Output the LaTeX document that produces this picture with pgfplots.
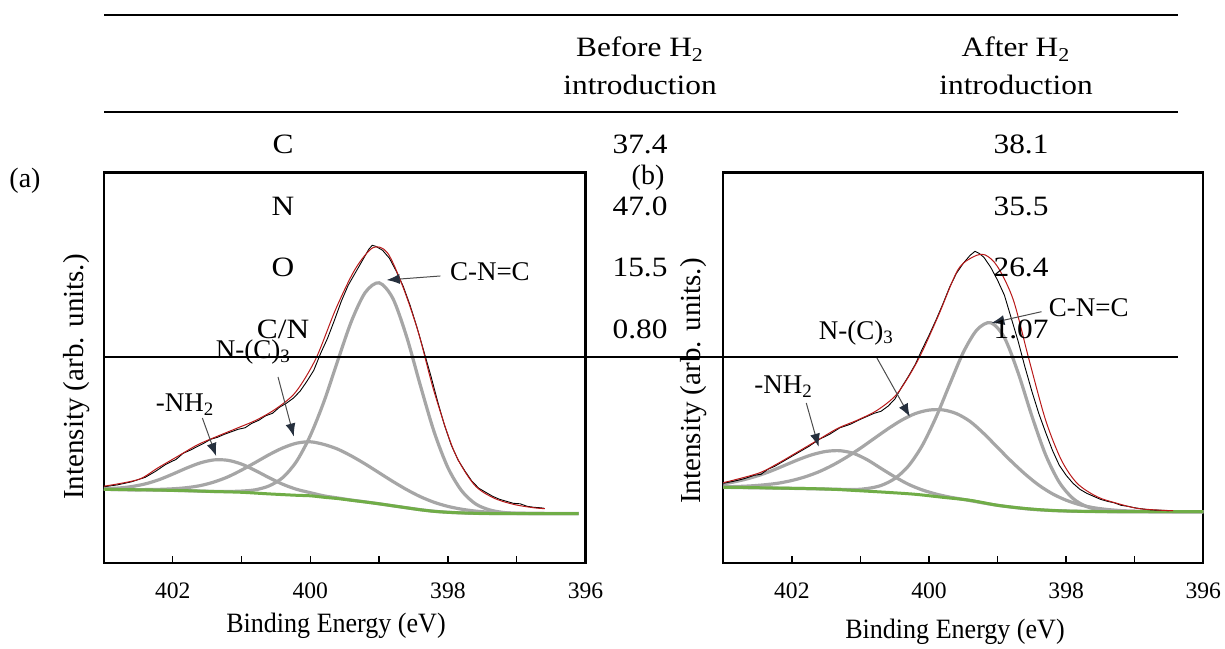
\documentclass[border=0pt]{standalone}
\usepackage{fontspec}
\setmainfont{Liberation Serif}
\newfontfamily\tabfont[FakeStretch=1.12]{Liberation Serif}
\newfontfamily\lblfont[FakeStretch=0.93]{Liberation Serif}
\usepackage{pgfplots}
\pgfplotsset{compat=1.18}
\usetikzlibrary{arrows.meta}
\definecolor{compgray}{RGB}{166,166,166}
\definecolor{bggreen}{RGB}{112,173,71}
\definecolor{envred}{RGB}{185,25,25}
\definecolor{arrowdark}{RGB}{38,48,62}
\pgfplotsset{
  xpsaxis/.style={scale only axis, height=195.4pt, anchor=south west,
    xmin=396, xmax=403, ymin=0, ymax=390.8, x dir=reverse,
    xtick={396,397,398,399,400,401,402},
    xticklabels={\textrm{396},,\textrm{398},,\textrm{400},,\textrm{402}},
    /pgf/number format/assume math mode=true,
    ytick=\empty, tick align=inside, xtick pos=left, major tick length=3.6pt,
    axis line style={line width=1.1pt}, every tick/.style={black, line width=0.7pt},
    xticklabel style={font=\rmfamily\fontsize{11.8}{13}\selectfont, inner sep=0pt, yshift=-9.5pt},
    clip=false},
  comp/.style={compgray, line width=1.6pt, smooth, no markers},
  bgs/.style={bggreen, line width=1.5pt, smooth, no markers},
  env/.style={envred, line width=0.5pt, smooth, no markers},
  raw/.style={black, line width=0.45pt, no markers},
}
\tikzset{
  anns/.style={font=\fontsize{13.5}{15}\selectfont, inner sep=0pt},
  arr/.style={draw=black!70, line width=0.5pt, -{Latex[length=6.5pt,width=5pt,color=arrowdark]}},
  tabt/.style={font=\tabfont\fontsize{14}{16}\selectfont, anchor=base, inner sep=0pt},
}
\begin{document}
\begin{tikzpicture}[x=1pt,y=1pt]
\path[use as bounding box] (0,0) rectangle (612.5,324);
% ---------------- (a) ----------------
\begin{axis}[xpsaxis, at={(52pt,42.35pt)}, width=240.75pt]
\addplot[comp] table {
403.0 74
402.6 73.6
402.2 73.2
401.8 72.6
401.4 71.8
401.2 71.8
401.0 72.2
400.8 73.5
400.6 77.4
400.4 85.8
400.2 102
400.0 127.8
399.8 162.1
399.6 203
399.4 242.5
399.2 271
399.0 280.5
398.8 264.8
398.6 226.5
398.4 177.7
398.2 131.3
398.0 95.6
397.8 72.5
397.6 59.5
397.4 53.5
397.2 50.9
397.0 49.9
396.6 49.7
396.1 49.7
};
\addplot[comp] table {
403.0 74
402.6 73.6
402.4 73.7
402.2 73.9
402.0 74.5
401.8 75.6
401.6 77.7
401.4 81.3
401.2 86.4
401.0 93.2
400.8 100.8
400.6 108.6
400.4 115.4
400.2 120.1
400.0 121.5
399.8 118.8
399.6 114.1
399.4 107.2
399.2 99.2
399.0 90.5
398.8 81.8
398.6 73.7
398.4 66.6
398.2 61
398.0 56.9
397.8 54.1
397.6 52.2
397.4 51.1
397.2 50.4
397.0 50.1
396.6 49.7
396.1 49.7
};
\addplot[comp] table {
403.0 74.6
402.8 75.2
402.6 76.7
402.4 79.4
402.2 83.6
402.0 89.2
401.8 95.2
401.6 100.4
401.4 103.4
401.2 103
401.0 99.2
400.8 92.8
400.6 85.6
400.4 79
400.2 74
400.0 70.6
399.8 67.4
399.6 65.3
399.4 63.2
399.2 61.4
399.0 59.5
398.6 55.5
398.2 52
397.8 50.4
397.4 49.8
396.1 49.7
};
\addplot[bgs] table {
403.0 74
402.6 73.6
402.2 73.2
401.8 72.6
401.4 71.8
401.0 71
400.6 69.4
400.2 68
400.0 67.5
399.8 66
399.6 64.7
399.4 63
399.2 61.3
399.0 59.5
398.8 57.5
398.6 55.5
398.4 53.5
398.2 52
398.0 51
397.8 50.4
397.6 50
397.4 49.8
397.0 49.7
396.1 49.7
};
\addplot[raw] table {
403.0 76.5
402.8 78.5
402.6 81.5
402.4 86
402.25 92
402.1 99
401.95 104
401.85 110
401.75 113
401.65 116.5
401.55 120
401.45 124
401.35 126
401.25 129
401.15 131.5
401.05 134
400.95 135.5
400.85 140
400.75 143
400.65 147.5
400.55 150
400.45 156
400.35 160
400.25 165
400.15 172
400.05 182
399.95 193
399.85 210
399.75 225
399.65 243
399.55 262
399.45 278
399.35 290
399.25 302
399.15 314
399.1 318
399.05 317
398.95 313
398.85 305
398.75 292
398.65 277
398.55 258
398.45 236
398.35 212
398.25 188
398.15 162
398.05 138
397.95 118
397.85 103
397.75 92
397.65 82
397.55 75
397.45 71
397.35 67
397.25 64
397.15 62
397.05 60
396.95 59.5
396.85 57
396.75 56
396.65 55.5
396.6 55
};
\addplot[env] table {
403.0 77.1
402.5 83.8
402.22 95.3
401.93 106.9
401.64 118.5
401.36 126.8
401.07 135
400.78 143.4
400.49 155
400.21 171.5
399.92 204.6
399.63 254.3
399.35 294
399.09 315.6
398.88 310.6
398.66 277.5
398.43 231
398.2 171.5
397.91 112
397.62 78.8
397.34 65.5
397.05 59
396.76 55.6
396.59 54.6
};
\node[anns] at (axis cs:397.39,291.3) {C-N=C};
\draw[arr] (axis cs:398.11,287.3) -- (axis cs:398.89,283.3);
\node[anns] at (axis cs:400.83,211.3) {N-(C)\textsubscript{3}};
\draw[arr] (axis cs:400.47,186.3) -- (axis cs:400.24,126.8);
\node[anns] at (axis cs:401.82,158.3) {-NH\textsubscript{2}};
\draw[arr] (axis cs:401.57,145.3) -- (axis cs:401.37,107.3);
\end{axis}
% ---------------- (b) ----------------
\begin{axis}[xpsaxis, at={(361.65pt,42.35pt)}, width=240pt]
\addplot[comp] table {
403.0 76
402.2 75.2
401.6 74.4
401.1 73.8
400.9 74.8
400.7 77.8
400.5 84.7
400.3 97.3
400.1 117.6
399.9 145.7
399.7 178.7
399.5 210.9
399.3 233.5
399.1 240.6
398.9 225.6
398.7 190.4
398.5 147.3
398.3 108.6
398.1 81
397.9 64.8
397.7 56.7
397.5 53.3
397.3 52.1
397.1 51.7
396.0 51.6
};
\addplot[comp] table {
403.0 76.5
402.8 76.8
402.6 77.4
402.4 78.5
402.2 80.1
402.0 82.8
401.8 86.6
401.6 91.7
401.4 98.3
401.2 106.2
401.0 115.1
400.8 124.8
400.6 134.4
400.4 143.1
400.2 149.7
400.0 153.2
399.8 153.4
399.6 149.7
399.4 141.8
399.2 129.7
399.0 115.8
398.8 102
398.6 89.3
398.4 78.2
398.2 69.5
398.0 63.1
397.8 58.6
397.6 55.6
397.4 53.8
397.2 52.7
397.0 52.2
396.6 51.7
396.0 51.6
};
\addplot[comp] table {
403.0 79.6
402.9 80.6
402.7 83.6
402.5 87.5
402.3 92.4
402.1 98.1
401.9 103.8
401.7 108.7
401.5 111.9
401.3 112.6
401.1 109.9
400.9 103.5
400.7 94.9
400.5 86.5
400.3 79
400.1 73.4
399.9 69.3
399.7 66.2
399.5 63.9
399.0 58
398.5 54
398.0 52.3
397.5 51.7
397.0 51.6
396.0 51.6
};
\addplot[bgs] table {
403.0 76
402.6 75.7
402.2 75.2
401.8 74.8
401.4 74
401.0 72.5
400.6 70.9
400.2 69
399.8 66
399.4 63
399.0 58
398.6 54.8
398.2 52.8
397.8 52
397.4 51.7
397.0 51.6
396.0 51.6
};
\addplot[raw] table {
403.0 80
402.85 82
402.7 84.5
402.55 88
402.45 89
402.35 94
402.25 97
402.1 103
401.95 109
401.85 113
401.75 117
401.6 124
401.45 129
401.3 135.5
401.15 139
401.0 144
400.9 147
400.8 150
400.7 152
400.6 157
400.5 164
400.4 176
400.3 187
400.2 199
400.1 214
400.0 228
399.9 243
399.8 259
399.7 276
399.6 290
399.5 300
399.4 308
399.33 312
399.27 310
399.2 306
399.1 296
399.0 283
398.9 268
398.8 245
398.7 222
398.6 196
398.5 172
398.4 150
398.3 131
398.2 113
398.1 98
398.0 88
397.9 80
397.8 74
397.7 70
397.6 67
397.5 64
397.4 62
397.3 60.5
397.2 58
397.1 57
397.0 55.5
396.9 54.5
396.8 53.6
396.7 53.2
396.6 53
396.5 52.6
};
\addplot[env] table {
403.0 80.6
402.49 90
402.2 100
401.91 111.6
401.62 123.3
401.33 135
401.04 143.3
400.75 153.3
400.46 170
400.16 203.3
399.87 246.6
399.58 293.3
399.35 306.6
399.18 308.3
399.0 296.6
398.77 263.3
398.54 203.3
398.30 143.3
398.07 103.3
397.84 80
397.55 66.6
397.26 60
396.97 55
396.68 53.3
396.44 52.6
};
\node[anns] at (axis cs:397.67,255.3) {C-N=C};
\draw[arr] (axis cs:398.36,251.6) -- (axis cs:399.09,240.3);
\node[anns] at (axis cs:401.06,230.3) {N-(C)\textsubscript{3}};
\draw[arr] (axis cs:400.77,206.6) -- (axis cs:400.28,146.6);
\node[anns] at (axis cs:402.12,176.3) {-NH\textsubscript{2}};
\draw[arr] (axis cs:401.79,160.3) -- (axis cs:401.61,116.6);
\end{axis}
% axis labels
\node[font=\lblfont\fontsize{14}{16}\selectfont, inner sep=0pt] at (168,11) {Binding Energy (eV)};
\node[font=\lblfont\fontsize{14}{16}\selectfont, inner sep=0pt] at (477.5,8) {Binding Energy (eV)};
\node[font=\fontsize{14.5}{16}\selectfont, inner sep=0pt, rotate=90] at (38.25,135.5) {Intensity (arb. units.)};
\node[font=\fontsize{14.5}{16}\selectfont, inner sep=0pt, rotate=90] at (347,133.5) {Intensity (arb. units.)};
\node[font=\fontsize{14}{16}\selectfont, inner sep=0pt] at (12.5,233.5) {(a)};
\node[font=\fontsize{14}{16}\selectfont, inner sep=0pt] at (324,235) {(b)};
% table overlay
\draw[line width=1.4pt] (52,316.5) -- (589,316.5);
\draw[line width=0.8pt] (52,268) -- (589,268);
\draw[line width=1.1pt] (52,145.5) -- (589,145.5);
\node[tabt] at (320,295.5) {Before H\textsubscript{2}};
\node[tabt] at (320,276.5) {introduction};
\node[tabt] at (508,295.5) {After H\textsubscript{2}};
\node[tabt] at (508,276.5) {introduction};
\node[tabt] at (141.5,247) {C};
\node[tabt] at (141.5,216) {N};
\node[tabt] at (141.5,185.5) {O};
\node[tabt] at (141.5,154.5) {C/N};
\node[tabt] at (320,247) {37.4};
\node[tabt] at (320,216) {47.0};
\node[tabt] at (320,185.5) {15.5};
\node[tabt] at (320,154.5) {0.80};
\node[tabt] at (510.5,247) {38.1};
\node[tabt] at (510.5,216) {35.5};
\node[tabt] at (510.5,185.5) {26.4};
\node[tabt] at (510.5,154.5) {1.07};
\end{tikzpicture}
\end{document}
